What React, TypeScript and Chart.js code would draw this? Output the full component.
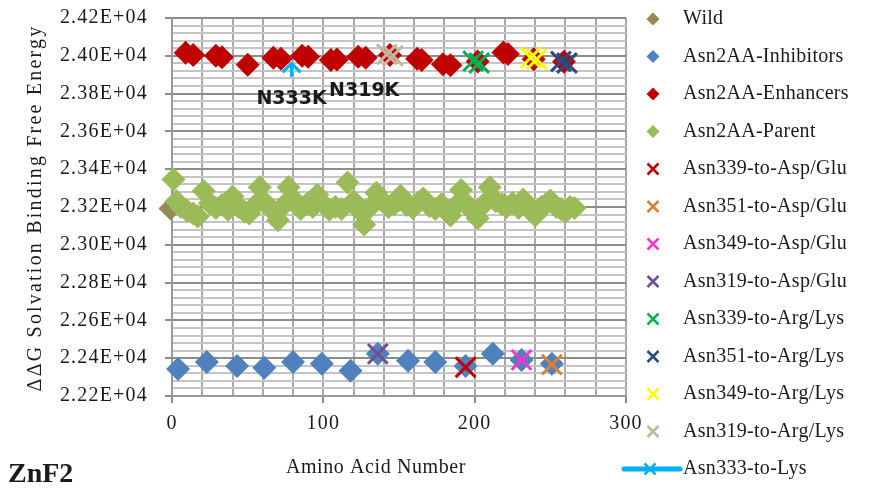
import React, { useEffect, useRef } from 'react';
import { Chart, registerables } from 'chart.js';

Chart.register(...registerables);

// ---------- data ----------
const wildX = [-1];
const wildY = [23192];

const inhibitorsX = [4, 23, 43, 61, 80, 99, 118, 136, 156, 174, 194, 212, 231, 251];
const inhibitorsY = [22343, 22380, 22359, 22349, 22380, 22370, 22333, 22423, 22386, 22380, 22359, 22423, 22391, 22370];

const enhancersX = [9, 14, 29, 33, 50, 67, 72, 86, 90, 105, 109, 123, 128, 144, 162, 165, 179, 184, 202, 219, 222, 239, 259];
const enhancersY = [24016, 24004, 24000, 23992, 23952, 23990, 23985, 24000, 23995, 23978, 23980, 23995, 23990, 24004, 23985, 23978, 23955, 23950, 23970, 24018, 24010, 23982, 23968];

const parentX = [1, 3, 6, 10, 14, 17, 21, 25, 29, 33, 37, 40, 44, 48, 51, 55, 58, 62, 66, 70, 74, 77, 81, 85, 89, 93, 96, 100, 104, 108, 112, 116, 120, 123, 127, 131, 135, 139, 143, 147, 151, 155, 159, 163, 166, 170, 174, 178, 181, 184, 188, 191, 195, 199, 202, 206, 210, 214, 218, 221, 225, 229, 232, 236, 240, 244, 247, 250, 254, 257, 260, 263, 266];
const parentY = [23345, 23230, 23200, 23180, 23165, 23150, 23285, 23220, 23195, 23210, 23185, 23255, 23200, 23175, 23165, 23210, 23305, 23220, 23185, 23130, 23210, 23305, 23235, 23190, 23215, 23200, 23265, 23215, 23185, 23200, 23190, 23330, 23230, 23190, 23107, 23200, 23275, 23230, 23200, 23215, 23260, 23210, 23195, 23225, 23245, 23205, 23190, 23215, 23190, 23155, 23210, 23290, 23215, 23175, 23140, 23215, 23305, 23230, 23215, 23200, 23220, 23195, 23240, 23200, 23155, 23200, 23215, 23235, 23200, 23190, 23175, 23200, 23195];

const asn339AspX = [194];
const asn339AspY = [22352];
const asn351AspX = [251];
const asn351AspY = [22366];
const asn349AspX = [231];
const asn349AspY = [22391];
const asn319AspX = [136];
const asn319AspY = [22423];

const asn339ArgX = [199, 203];
const asn339ArgY = [23972, 23962];
const asn351ArgX = [257, 261];
const asn351ArgY = [23970, 23962];
const asn349ArgX = [237, 241];
const asn349ArgY = [23990, 23982];
const asn319ArgX = [142, 146];
const asn319ArgY = [24008, 24000];

const asn333X = [79, 79];
const asn333Y = [23889, 23960];

const noteLabels = ['N333K', 'N319K'];
const noteX = [79, 127];
const noteY = [23770, 23813];

const yMin = 22200;
const yMax = 24200;
const yStep = 40;
const yMajor = 200;
const xMin = 0;
const xMax = 300;
const xStep = 20;
const xMajor = 100;

const xTitle = 'Amino Acid Number';
const yTitle = 'ΔΔG Solvation Binding Free Energy';
const panelLabel = 'ZnF2';

// ---------- styles ----------
const SERIF = "'Liberation Serif', 'Times New Roman', serif";

type Kind = 'diamond' | 'cross' | 'arrow';
const seriesDefs: { label: string; xs: number[]; ys: number[]; color: string; kind: Kind }[] = [
  { label: 'Wild', xs: wildX, ys: wildY, color: '#948a54', kind: 'diamond' },
  { label: 'Asn2AA-Inhibitors', xs: inhibitorsX, ys: inhibitorsY, color: '#4f81bd', kind: 'diamond' },
  { label: 'Asn2AA-Enhancers', xs: enhancersX, ys: enhancersY, color: '#c00000', kind: 'diamond' },
  { label: 'Asn2AA-Parent', xs: parentX, ys: parentY, color: '#9bbb59', kind: 'diamond' },
  { label: 'Asn339-to-Asp/Glu', xs: asn339AspX, ys: asn339AspY, color: '#c00000', kind: 'cross' },
  { label: 'Asn351-to-Asp/Glu', xs: asn351AspX, ys: asn351AspY, color: '#dd8033', kind: 'cross' },
  { label: 'Asn349-to-Asp/Glu', xs: asn349AspX, ys: asn349AspY, color: '#ff33cc', kind: 'cross' },
  { label: 'Asn319-to-Asp/Glu', xs: asn319AspX, ys: asn319AspY, color: '#6f4f8f', kind: 'cross' },
  { label: 'Asn339-to-Arg/Lys', xs: asn339ArgX, ys: asn339ArgY, color: '#00b050', kind: 'cross' },
  { label: 'Asn351-to-Arg/Lys', xs: asn351ArgX, ys: asn351ArgY, color: '#2a4a80', kind: 'cross' },
  { label: 'Asn349-to-Arg/Lys', xs: asn349ArgX, ys: asn349ArgY, color: '#ffff00', kind: 'cross' },
  { label: 'Asn319-to-Arg/Lys', xs: asn319ArgX, ys: asn319ArgY, color: '#c4b69c', kind: 'cross' },
  { label: 'Asn333-to-Lys', xs: asn333X, ys: asn333Y, color: '#00b0f0', kind: 'arrow' },
];

const pts = (xs: number[], ys: number[]) => xs.map((x, i) => ({ x, y: ys[i] }));

function drawCross(ctx: CanvasRenderingContext2D, x: number, y: number, h: number, color: string, w: number) {
  ctx.save();
  ctx.strokeStyle = color;
  ctx.lineWidth = w;
  ctx.beginPath();
  ctx.moveTo(x - h, y - h);
  ctx.lineTo(x + h, y + h);
  ctx.moveTo(x - h, y + h);
  ctx.lineTo(x + h, y - h);
  ctx.stroke();
  ctx.restore();
}

const decorPlugin = {
  id: 'decor',
  beforeDraw(chart: any) {
    chart.ctx.letterSpacing = '1.2px';
  },
  afterDatasetsDraw(chart: any) {
    const ctx: CanvasRenderingContext2D = chart.ctx;
    const xs = chart.scales.x;
    const ys = chart.scales.y;
    // arrowhead on the Asn333-to-Lys segment
    const idx = seriesDefs.findIndex((s) => s.kind === 'arrow');
    const meta = chart.getDatasetMeta(idx);
    if (meta && meta.data.length > 1) {
      const tip = meta.data[meta.data.length - 1];
      ctx.save();
      ctx.strokeStyle = seriesDefs[idx].color;
      ctx.lineWidth = 3;
      ctx.lineCap = 'round';
      ctx.beginPath();
      ctx.moveTo(tip.x - 8, tip.y + 8);
      ctx.lineTo(tip.x, tip.y);
      ctx.lineTo(tip.x + 8, tip.y + 8);
      ctx.stroke();
      ctx.restore();
    }
    // annotations
    ctx.save();
    ctx.letterSpacing = '0px';
    ctx.font = "bold 19px 'DejaVu Sans', sans-serif";
    ctx.fillStyle = '#1a1a1a';
    ctx.textAlign = 'center';
    ctx.textBaseline = 'middle';
    noteLabels.forEach((t, i) => {
      ctx.fillText(t, xs.getPixelForValue(noteX[i]), ys.getPixelForValue(noteY[i]));
    });
    ctx.restore();
  },
  afterDraw(chart: any) {
    const ctx: CanvasRenderingContext2D = chart.ctx;
    ctx.save();
    ctx.fillStyle = '#1a1a1a';
    // legend
    ctx.font = `20px ${SERIF}`;
    ctx.letterSpacing = '0.3px';
    ctx.textAlign = 'left';
    ctx.textBaseline = 'middle';
    const mx = 653;
    const tx = 683;
    seriesDefs.forEach((s, i) => {
      const y = 19 + i * 37.5;
      if (s.kind === 'diamond') {
        ctx.fillStyle = s.color;
        ctx.beginPath();
        ctx.moveTo(mx - 6.5, y);
        ctx.lineTo(mx, y - 6.5);
        ctx.lineTo(mx + 6.5, y);
        ctx.lineTo(mx, y + 6.5);
        ctx.closePath();
        ctx.fill();
      } else if (s.kind === 'cross') {
        drawCross(ctx, mx, y, 5.5, s.color, 2.5);
      } else {
        ctx.save();
        ctx.strokeStyle = s.color;
        ctx.lineWidth = 5;
        ctx.lineCap = 'round';
        ctx.beginPath();
        ctx.moveTo(624, y);
        ctx.lineTo(680, y);
        ctx.stroke();
        ctx.restore();
        drawCross(ctx, 650, y, 5.5, s.color, 2.5);
      }
      ctx.fillStyle = '#1a1a1a';
      ctx.fillText(s.label, tx, y);
    });
    // axis titles
    ctx.textAlign = 'center';
    ctx.font = `20px ${SERIF}`;
    ctx.letterSpacing = '0.6px';
    ctx.fillText(xTitle, 376, 468);
    ctx.save();
    ctx.translate(36, 208);
    ctx.rotate(-Math.PI / 2);
    ctx.letterSpacing = '2.2px';
    ctx.fillText(yTitle, 0, 0);
    ctx.restore();
    // panel label
    ctx.textAlign = 'left';
    ctx.textBaseline = 'alphabetic';
    ctx.letterSpacing = '0px';
    ctx.font = `bold 28px ${SERIF}`;
    ctx.fillText(panelLabel, 8, 482);
    ctx.restore();
    ctx.letterSpacing = '0px';
  },
};

export default function App() {
  const ref = useRef<HTMLCanvasElement | null>(null);

  useEffect(() => {
    document.body.style.margin = '0';
    const canvas = ref.current;
    if (!canvas) return;
    const n = seriesDefs.length;
    const datasets: any[] = seriesDefs.map((s, i) => {
      const base: any = {
        label: s.label,
        data: pts(s.xs, s.ys),
        order: n - i,
        clip: false,
      };
      if (s.kind === 'diamond') {
        return {
          ...base,
          pointStyle: 'rectRot',
          pointRadius: 12,
          pointHoverRadius: 12,
          backgroundColor: s.color,
          borderColor: s.color,
          borderWidth: 0,
        };
      }
      if (s.kind === 'cross') {
        return {
          ...base,
          pointStyle: 'crossRot',
          pointRadius: 14,
          pointHoverRadius: 14,
          backgroundColor: s.color,
          borderColor: s.color,
          borderWidth: 3,
        };
      }
      return {
        ...base,
        showLine: true,
        pointRadius: 0,
        borderColor: s.color,
        backgroundColor: s.color,
        borderWidth: 3,
      };
    });

    const chart = new Chart(canvas, {
      type: 'scatter',
      data: { datasets },
      options: {
        responsive: false,
        animation: false,
        devicePixelRatio: 1,
        layout: { padding: { left: 20, top: 18, right: 254, bottom: 5 } },
        plugins: { legend: { display: false }, tooltip: { enabled: false } },
        events: [],
        scales: {
          x: {
            type: 'linear',
            min: xMin,
            max: xMax,
            afterFit: (scale: any) => {
              scale.height = 88;
              scale.paddingLeft = 0;
              scale.paddingRight = 0;
            },
            ticks: {
              stepSize: xStep,
              maxTicksLimit: 100,
              autoSkip: false,
              maxRotation: 0,
              padding: 9,
              color: '#1a1a1a',
              font: { family: SERIF, size: 20 },
              callback: (v: any) => (Math.round(v) % xMajor === 0 ? String(Math.round(v)) : ''),
            },
            grid: {
              color: '#a8a8a8',
              lineWidth: 2,
              tickLength: 7,
              tickColor: (c: any) => (c.tick && Math.round(c.tick.value) % xMajor === 0 ? '#8c8c8c' : 'rgba(0,0,0,0)'),
            },
            border: { color: '#999999', width: 2 },
          },
          y: {
            type: 'linear',
            min: yMin,
            max: yMax,
            afterFit: (scale: any) => {
              scale.width = 152;
              scale.paddingTop = 0;
              scale.paddingBottom = 0;
            },
            ticks: {
              stepSize: yStep,
              maxTicksLimit: 100,
              autoSkip: false,
              padding: 17,
              color: '#1a1a1a',
              font: { family: SERIF, size: 20 },
              callback: (v: any) =>
                Math.round(v) % yMajor === 0 ? (Math.round(v) / 10000).toFixed(2) + 'E+04' : '',
            },
            grid: {
              color: (c: any) => (c.tick && Math.round(c.tick.value) % yMajor === 0 ? '#8c8c8c' : '#c4c4c4'),
              lineWidth: 2,
              tickLength: 7,
              tickColor: (c: any) => (c.tick && Math.round(c.tick.value) % yMajor === 0 ? '#8c8c8c' : 'rgba(0,0,0,0)'),
            },
            border: { color: '#999999', width: 2 },
          },
        },
      } as any,
      plugins: [decorPlugin],
    });
    return () => chart.destroy();
  }, []);

  return (
    <div style={{ position: 'absolute', left: 0, top: 0, width: 880, height: 489, background: '#ffffff' }}>
      <canvas ref={ref} width={880} height={489} />
    </div>
  );
}
